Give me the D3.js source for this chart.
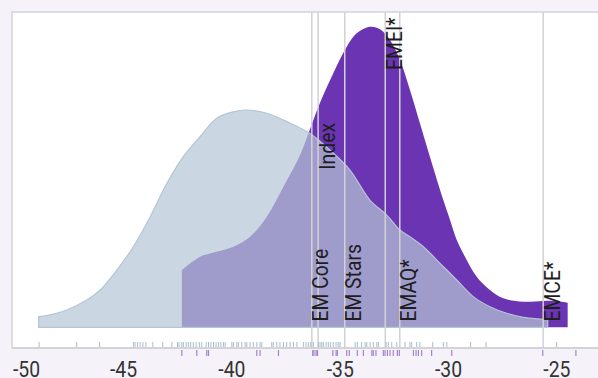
<!DOCTYPE html>
<html>
<head>
<meta charset="utf-8">
<script src="https://cdn.jsdelivr.net/npm/d3@7"></script>
<style>
  body { margin: 0; background: #f5f3f9; }
  svg { display: block; font-family: Roboto, "Noto Sans", sans-serif; }
</style>
</head>
<body>
<svg id="chart" width="598" height="378"></svg>
<script>
// density curve of the whole peer group (value, density)
const allX = [-48.92, -48.39, -47.62, -46.70, -46.08, -45.31, -44.55, -43.77, -43.00, -42.24,
  -41.47, -40.70, -39.93, -39.39, -38.39, -37.31, -36.41, -35.48, -34.55, -33.63,
  -32.85, -32.24, -31.78, -31.16, -30.39, -29.62, -28.86, -28.09, -27.31, -26.55,
  -25.64, -25.42];
const allY = [0.0084, 0.0098, 0.0137, 0.0216, 0.0296, 0.0454, 0.0639, 0.0877, 0.1142, 0.1353,
  0.1511, 0.1657, 0.1709, 0.1723, 0.1697, 0.1618, 0.1538, 0.1406, 0.1247, 0.1009,
  0.0890, 0.0771, 0.0718, 0.0639, 0.0507, 0.0375, 0.0243, 0.0163, 0.0111, 0.0079,
  0.0063, 0.0058];

// density curve of the highlighted group
const selX = [-42.31, -41.47, -40.70, -39.93, -39.16, -38.39, -37.62, -36.85, -36.41, -35.94,
  -35.32, -34.70, -34.24, -33.62, -33.16, -32.70, -32.24, -31.78, -31.32, -30.86,
  -30.24, -29.93, -29.62, -29.16, -28.70, -28.09, -27.47, -26.55, -25.64, -25.02, -24.50];
const selY = [0.0454, 0.0560, 0.0599, 0.0639, 0.0718, 0.0877, 0.1115, 0.1366, 0.1564, 0.1776,
  0.2014, 0.2225, 0.2331, 0.2383, 0.2363, 0.2278, 0.2119, 0.1882, 0.1618, 0.1353,
  0.1009, 0.0851, 0.0692, 0.0534, 0.0401, 0.0296, 0.0230, 0.0203, 0.0209, 0.0209, 0.0195];

// rug values
const allRug = [-48.90, -47.16, -46.11, -44.55, -44.47, -44.36, -44.24, -44.11, -43.97, -43.65,
  -43.19, -42.77, -42.51, -42.44, -42.31, -42.24, -42.11, -42.01, -41.90, -41.78,
  -41.65, -41.50, -41.39, -41.19, -41.08, -40.97, -40.85, -40.73, -40.62, -40.51,
  -40.39, -40.31, -40.00, -39.93, -39.77, -39.70, -39.54, -39.39, -39.31, -39.16,
  -39.01, -38.85, -38.70, -38.62, -38.16, -38.09, -37.93, -37.78, -37.62, -37.47,
  -37.31, -37.16, -37.00, -36.70, -36.58, -36.47, -36.36, -36.24, -36.01, -35.93,
  -35.85, -35.78, -35.65, -35.55, -35.44, -35.32, -35.19, -35.09, -35.01, -34.31,
  -34.21, -34.01, -33.85, -33.77, -33.62, -33.47, -33.31, -33.24, -32.88, -32.78,
  -32.62, -32.39, -32.01, -31.78, -31.70, -31.47, -31.32, -30.73, -30.24, -30.08,
  -28.98, -28.27, -25.01];
const selRug = [-42.31, -41.62, -41.16, -41.08, -38.85, -38.70, -37.85, -36.27, -36.21, -36.11,
  -36.05, -35.34, -35.19, -35.13, -34.70, -34.58, -34.21, -33.93, -33.54, -33.47,
  -33.35, -33.01, -32.93, -32.82, -32.70, -32.55, -32.36, -32.27, -31.62, -31.50,
  -31.39, -31.24, -30.78, -29.85, -25.65, -24.12];

// marked funds
const markNames = ["EM Core", "Index", "EM Stars", "EMEI*", "EMAQ*", "EMCE*"];
const markValues = [-36.31, -36.02, -34.79, -32.92, -32.25, -25.63];
const markLevels = [0.0045, 0.125, 0.0045, 0.204, 0.0045, 0.0045];

const xTicks = [-50, -45, -40, -35, -30, -25];

const plot = { left: 12, top: 12, right: 598, bottom: 348, base: 327.3 };

const svg = d3.select("#chart");

const x = d3.scaleLinear().domain([-50.15, -23.1]).range([plot.left, plot.right]);
const y = d3.scaleLinear().domain([0, 0.25]).range([plot.base, plot.top]);

const area = d3.area()
  .x((d) => x(d[0]))
  .y0(plot.base)
  .y1((d) => y(d[1]))
  .curve(d3.curveCatmullRom.alpha(0.5));

// plot background
svg.append("rect")
  .attr("x", plot.left).attr("y", plot.top)
  .attr("width", plot.right - plot.left + 2)
  .attr("height", plot.bottom - plot.top)
  .attr("fill", "#fff")
  .attr("stroke", "#d4d4d8")
  .attr("stroke-width", 1.5);

svg.append("path")
  .datum(d3.zip(selX, selY))
  .attr("d", area)
  .attr("fill", "#6a34b2");

svg.append("path")
  .datum(d3.zip(allX, allY))
  .attr("d", area)
  .attr("fill", "#b4c5d5")
  .attr("fill-opacity", 0.71)
  .attr("stroke", "#b4c5d5")
  .attr("stroke-width", 1.2);

// reference lines + labels
svg.append("g").selectAll("line")
  .data(markValues)
  .join("line")
  .attr("x1", (d) => x(d)).attr("x2", (d) => x(d))
  .attr("y1", plot.top).attr("y2", plot.bottom)
  .attr("stroke", "#d2d2d6")
  .attr("stroke-width", 1.5);

svg.append("g").selectAll("text")
  .data(markNames)
  .join("text")
  .attr("transform", (d, i) =>
    `translate(${x(markValues[i]) + 16.5},${y(markLevels[i])}) rotate(-90) scale(0.88,1)`)
  .attr("font-size", 22)
  .attr("fill", "#1e1e1e")
  .text((d) => d);

// axis line
svg.append("line")
  .attr("x1", plot.left).attr("x2", plot.right)
  .attr("y1", plot.bottom).attr("y2", plot.bottom)
  .attr("stroke", "#cfcfd4")
  .attr("stroke-width", 1.5);

// rugs
svg.append("g").selectAll("line")
  .data(allRug)
  .join("line")
  .attr("x1", (d) => x(d)).attr("x2", (d) => x(d))
  .attr("y1", 342).attr("y2", 347)
  .attr("stroke", "#a9bccd")
  .attr("stroke-width", 1);

svg.append("g").selectAll("line")
  .data(selRug)
  .join("line")
  .attr("x1", (d) => x(d)).attr("x2", (d) => x(d))
  .attr("y1", 350).attr("y2", 356)
  .attr("stroke", "#a582cf")
  .attr("stroke-width", 1.2);

// tick labels
svg.append("g").selectAll("text")
  .data(xTicks)
  .join("text")
  .attr("transform", (d, i) =>
    `translate(${i === 0 ? plot.left + 1 : x(d)},376.5) scale(0.88,1)`)
  .attr("text-anchor", (d, i) => (i === 0 ? "start" : "middle"))
  .attr("font-size", 22)
  .attr("fill", "#333")
  .text((d) => d);
</script>
</body>
</html>
